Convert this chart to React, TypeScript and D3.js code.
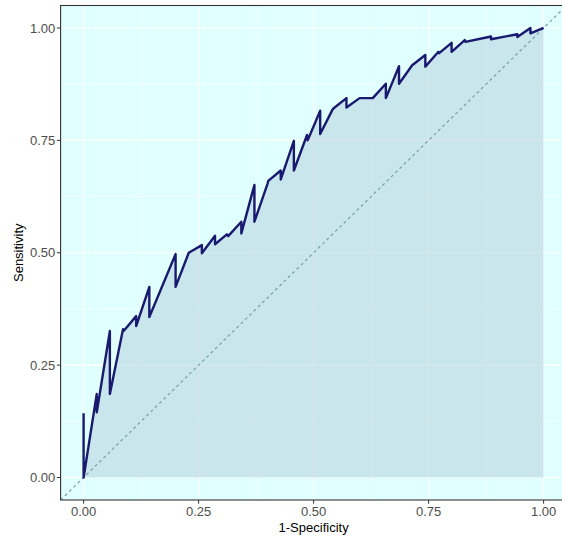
import React from "react";
import * as d3 from "d3";

const fprValues = [
  0, 0, 0.0286, 0.0286, 0.0571, 0.0571, 0.0857, 0.0871, 0.1143, 0.1143,
  0.1429, 0.1429, 0.2, 0.2, 0.2286, 0.2571, 0.2571, 0.2857, 0.2857, 0.3114,
  0.3143, 0.3429, 0.3429, 0.3714, 0.3714, 0.4, 0.4014, 0.4286, 0.4286, 0.4571,
  0.4571, 0.4857, 0.4871, 0.5143, 0.5143, 0.5414, 0.5443, 0.5714, 0.5714, 0.6,
  0.6286, 0.6571, 0.6571, 0.6857, 0.6857, 0.7143, 0.7429, 0.7429, 0.7714, 0.7729,
  0.8, 0.8, 0.8286, 0.83, 0.8857, 0.8857, 0.9429, 0.9429, 0.9714, 0.9714, 1.0,
];
const tprValues = [
  0.143, 0, 0.186, 0.145, 0.326, 0.186, 0.33, 0.326, 0.359, 0.337,
  0.424, 0.357, 0.497, 0.424, 0.5, 0.517, 0.499, 0.538, 0.519, 0.541,
  0.537, 0.569, 0.543, 0.651, 0.569, 0.654, 0.66, 0.683, 0.663, 0.749,
  0.683, 0.762, 0.75, 0.816, 0.764, 0.819, 0.822, 0.844, 0.823, 0.844,
  0.844, 0.876, 0.844, 0.915, 0.876, 0.917, 0.94, 0.914, 0.947, 0.944,
  0.967, 0.947, 0.973, 0.969, 0.981, 0.975, 0.986, 0.98, 1.0, 0.988, 1.0,
];
const majorTicks = [0, 0.25, 0.5, 0.75, 1];
const minorTicks = [0.125, 0.375, 0.625, 0.875];
const tickLabels = ["0.00", "0.25", "0.50", "0.75", "1.00"];

const W = 562;
const H = 538;
const panel = { left: 60.6, right: 566.6, top: 5.5, bottom: 500 };

export default function App() {
  const x = d3.scaleLinear().domain([-0.05, 1.05]).range([panel.left, panel.right]);
  const y = d3.scaleLinear().domain([-0.05, 1.05]).range([panel.bottom, panel.top]);
  const pts: [number, number][] = fprValues.map((f, i) => [f, tprValues[i]]);
  const area = d3
    .area<[number, number]>()
    .x((d) => x(d[0]))
    .y0(y(0))
    .y1((d) => y(d[1]))(pts) as string;
  const line = d3
    .line<[number, number]>()
    .x((d) => x(d[0]))
    .y((d) => y(d[1]))(pts) as string;
  const font = "'Liberation Sans', Arial, sans-serif";
  return (
    <svg
      width={W}
      height={H}
      style={{ position: "absolute", left: 0, top: 0, display: "block" }}
    >
      <rect x={0} y={0} width={W} height={H} fill="#ffffff" />
      <defs>
        <clipPath id="pc">
          <rect x={panel.left} y={panel.top} width={panel.right - panel.left} height={panel.bottom - panel.top} />
        </clipPath>
      </defs>
      <rect
        x={panel.left}
        y={panel.top}
        width={panel.right - panel.left}
        height={panel.bottom - panel.top}
        fill="#E0FFFF"
      />
      {minorTicks.map((t) => (
        <g key={"mn" + t}>
          <line x1={x(t)} x2={x(t)} y1={panel.top} y2={panel.bottom} stroke="#ffffff" strokeWidth={0.6} />
          <line x1={panel.left} x2={panel.right} y1={y(t)} y2={y(t)} stroke="#ffffff" strokeWidth={0.6} />
        </g>
      ))}
      {majorTicks.map((t) => (
        <g key={"mj" + t}>
          <line x1={x(t)} x2={x(t)} y1={panel.top} y2={panel.bottom} stroke="#ffffff" strokeWidth={1.1} />
          <line x1={panel.left} x2={panel.right} y1={y(t)} y2={y(t)} stroke="#ffffff" strokeWidth={1.1} />
        </g>
      ))}
      <g clipPath="url(#pc)">
        <path d={area} fill="#aac8d4" fillOpacity={0.45} />
        <line
          x1={x(-0.05)}
          y1={y(-0.05)}
          x2={x(1.05)}
          y2={y(1.05)}
          stroke="#7a9fab"
          strokeWidth={1.2}
          strokeDasharray="3,3"
        />
        <path d={line} fill="none" stroke="#191970" strokeWidth={2.4} strokeLinejoin="round" />
      </g>
      <rect
        x={panel.left}
        y={panel.top}
        width={panel.right - panel.left}
        height={panel.bottom - panel.top}
        fill="none"
        stroke="#333333"
        strokeWidth={1.1}
      />
      {majorTicks.map((t, i) => (
        <g key={"xt" + t}>
          <line x1={x(t)} x2={x(t)} y1={panel.bottom} y2={panel.bottom + 3.7} stroke="#333333" strokeWidth={1} />
          <text x={x(t)} y={516} textAnchor="middle" fontSize={13} fill="#4D4D4D" fontFamily={font}>
            {tickLabels[i]}
          </text>
        </g>
      ))}
      {majorTicks.map((t, i) => (
        <g key={"yt" + t}>
          <line x1={panel.left - 3.7} x2={panel.left} y1={y(t)} y2={y(t)} stroke="#333333" strokeWidth={1} />
          <text x={55.3} y={y(t) + 4.6} textAnchor="end" fontSize={13} fill="#4D4D4D" fontFamily={font}>
            {tickLabels[i]}
          </text>
        </g>
      ))}
      <text x={(83.6 + 543.6) / 2} y={532} textAnchor="middle" fontSize={13} fill="#000000" fontFamily={font}>
        1-Specificity
      </text>
      <text
        transform={`translate(23, ${(panel.top + panel.bottom) / 2}) rotate(-90)`}
        textAnchor="middle"
        fontSize={13}
        fill="#000000"
        fontFamily={font}
      >
        Sensitivity
      </text>
    </svg>
  );
}
